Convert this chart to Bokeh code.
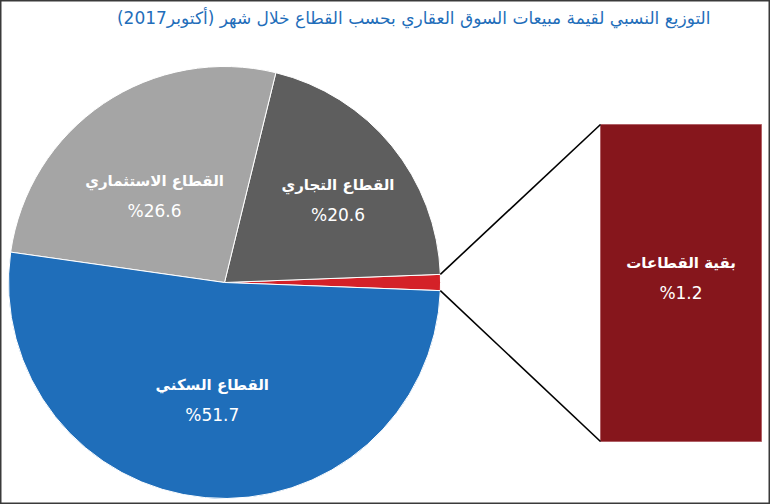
import math
from bokeh.plotting import figure
from bokeh.models import Range1d
from bokeh.core.properties import value
from bokeh.embed import file_html
from bokeh.resources import INLINE

# ---- data ----
title_text = "التوزيع النسبي لقيمة مبيعات السوق العقاري بحسب القطاع خلال شهر (أكتوبر2017)"
sectors = ["بقية القطاعات", "القطاع التجاري", "القطاع الاستثماري", "القطاع السكني"]
shares = [1.2, 20.6, 26.6, 51.7]
share_labels = ["%1.2", "%20.6", "%26.6", "%51.7"]
colors = ["#D42128", "#5E5E5E", "#A5A5A5", "#1F6EBA"]

W, H = 770, 504
p = figure(width=W, height=H, output_backend="svg", toolbar_location=None,
           x_range=Range1d(0, W), y_range=Range1d(0, H), min_border=0)
p.axis.visible = False
p.grid.visible = False
p.outline_line_color = "#3a3a3a"
p.outline_line_width = 2
p.background_fill_color = "white"

cx, cy, R = 224, 222, 216
font = value("DejaVu Sans")

# wedges, counter-clockwise starting so the small slice is centred on 0
total = sum(shares)
start = -shares[0] / total * math.pi
starts, ends = [], []
a = start
for s in shares:
    starts.append(a)
    a += s / total * 2 * math.pi
    ends.append(a)

p.wedge(x=[cx] * 4, y=[cy] * 4, radius=R, start_angle=starts, end_angle=ends,
        fill_color=colors, line_color="white", line_width=1)

# bar of pie
bx0, bx1, by0, by1 = 600, 761, 63, 380
p.quad(left=[bx0], right=[bx1], bottom=[by0], top=[by1],
       fill_color="#86161C", line_color="#B06066", line_width=1)

# connector lines
ex = [cx + R * math.cos(ends[0]), cx + R * math.cos(starts[0])]
ey = [cy + R * math.sin(ends[0]), cy + R * math.sin(starts[0])]
p.segment(x0=ex, y0=ey, x1=[bx0, bx0], y1=[by1, by0], line_color="black", line_width=1.6)

# labels (placed along the slice's middle angle, with small nudges)
rfac = [None, 0.66, 0.52, 0.53]
nudge = [None, (3, -5), (-7, -4), (-2, 0)]
lx, ly, nm, pc = [], [], [], []
for i in range(1, 4):
    mid = (starts[i] + ends[i]) / 2
    x = cx + rfac[i] * R * math.cos(mid) + nudge[i][0]
    y = cy + rfac[i] * R * math.sin(mid) + nudge[i][1]
    lx.append(x); ly.append(y); nm.append(sectors[i]); pc.append(share_labels[i])
lx.append((bx0 + bx1) / 2); ly.append((by0 + by1) / 2 + 8)
nm.append(sectors[0]); pc.append(share_labels[0])

p.text(x=lx, y=[v + 12 for v in ly], text=nm, text_font=font, text_font_size="15px",
       text_font_style="bold", text_color="white", text_align="center", text_baseline="middle")
p.text(x=lx, y=[v - 18 for v in ly], text=pc, text_font=font, text_font_size="17px",
       text_color="white", text_align="center", text_baseline="middle")

# title
p.text(x=[710], y=[H - 17], text=[title_text], text_font=font, text_font_size="17px",
       text_color="#1F6EBA", text_align="right", text_baseline="middle")

open("out.html", "w").write(file_html(p, INLINE))
